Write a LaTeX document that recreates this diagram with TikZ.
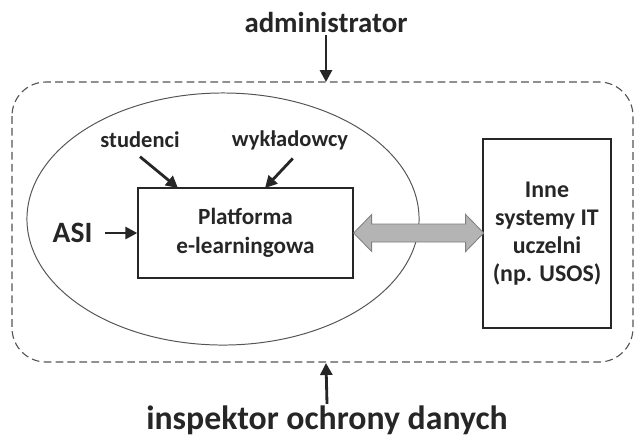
\documentclass[tikz,border=0pt]{standalone}
\usepackage{fontspec}
\setmainfont{Carlito}
\usetikzlibrary{arrows.meta}

\definecolor{txtgray}{HTML}{262626}
\definecolor{linegray}{HTML}{555555}
\definecolor{arrowfill}{HTML}{B4B4B4}

\tikzset{
  lbl/.style={font=\bfseries\fontsize{16}{19}\selectfont, text=txtgray, inner sep=0pt},
  bigtxt/.style={font=\bfseries\fontsize{20.5}{24}\selectfont, text=txtgray, inner sep=0pt},
  boxtxt/.style={draw=txtgray, line width=0.9pt, align=center,
    font=\bfseries\fontsize{16.5}{20.5}\selectfont, text=txtgray, inner sep=0pt},
  arr/.style={-{Triangle[length=8.5pt,width=8.5pt]}, line width=2pt, draw=txtgray}
}

\begin{document}
\begin{tikzpicture}[x=0.025cm, y=-0.025cm]

    \useasboundingbox (0,0) rectangle (636,437);

    % ramka i elipsa
    \draw[linegray, line width=0.8pt, dash pattern=on 5.5pt off 3pt, rounded corners=0.85cm]
      (12,82) rectangle (633,362);
    \draw[linegray, line width=0.7pt] (223,219) ellipse [x radius=4.9cm, y radius=3.15cm];

    \node[bigtxt] (admin) at (326,22) {administrator};
    \node[bigtxt, font=\bfseries\fontsize{24}{28}\selectfont] (insp) at (327,420) {inspektor ochrony danych};
    \coordinate (ramkagora) at (326,82);
    \coordinate (ramkadol) at (326,363);

    \node[boxtxt, minimum width=5.375cm, minimum height=2.25cm] (platf) at (245.5,233)
      {Platforma\\e-learningowa};
    \node[boxtxt, font=\bfseries\fontsize{17}{20}\selectfont, minimum width=3.2cm, minimum height=4.725cm]
      (inne) at (547,233.5) {Inne\\systemy IT\\uczelni\\(np. USOS)};

    \node[lbl] (stud) at (140,140) {studenci};
    \node[lbl] (wykl) at (290,140) {wykładowcy};
    \node[bigtxt, font=\bfseries\fontsize{21}{24}\selectfont] (asi) at (72.5,233) {ASI};
    \coordinate (studwe) at (178,188);
    \coordinate (wyklwe) at (265,188);

    \draw[arr] ([yshift=-2pt]admin.south) -- (ramkagora);
    \draw[arr] ([yshift=1pt]insp.north) -- (ramkadol);
    \draw[arr] ([yshift=-6pt]stud.south) -- (studwe);
    \draw[arr] ([yshift=-6pt,xshift=2pt]wykl.south) -- (wyklwe);
    \draw[arr] ([xshift=9pt]asi.east) -- (platf.west);

    % strzalka dwukierunkowa
    \draw[fill=arrowfill, draw=gray, line width=0.6pt] (platf.east)
      -- ++(18,-18.5) -- ++(0,9.5) -- ++(94,0) -- ++(0,-9.5) -- ++(18,18.5)
      -- ++(-18,18.5) -- ++(0,-9.5) -- ++(-94,0) -- ++(0,9.5) -- cycle;

  \end{tikzpicture}
\end{document}
